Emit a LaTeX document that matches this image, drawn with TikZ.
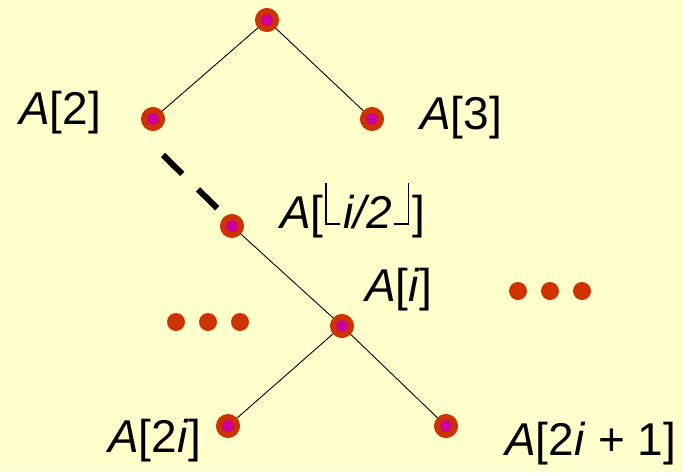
\documentclass[tikz,border=0pt]{standalone}
\usepackage{fontspec}
\setmainfont{Liberation Sans}
\definecolor{bg}{HTML}{FFFFCC}
\definecolor{nodered}{HTML}{CC3300}
\definecolor{nodemag}{HTML}{CC0099}
\newcommand\myfloorL{\hbox to 20pt{\hskip1.5pt\rlap{\rule[3pt]{1.6pt}{42pt}}\rule[3pt]{15pt}{1.6pt}\hss}}
\newcommand\myfloorR{\hbox to 20pt{\hskip1.5pt\rule[3pt]{14pt}{1.6pt}\rule[3pt]{1.6pt}{42pt}\hss}}
\begin{document}
\begin{tikzpicture}[x=1pt,y=-1pt,
  heapnode/.style={circle,draw=nodered,line width=6pt,fill=nodemag,minimum size=18pt,inner sep=0pt},
  edge/.style={draw=black,line width=0.9pt},
  dashedge/.style={draw=black,line width=6pt,dash pattern=on 27pt off 22pt},
  dotnode/.style={circle,fill=nodered,minimum size=18pt,inner sep=0pt},
  lbl/.style={anchor=base west,inner sep=0pt,font=\fontsize{46}{50}\selectfont}]
\fill[bg] (0,0) rectangle (683,472);
\useasboundingbox (0,0) rectangle (683,472);
% edges first (drawn under nodes)
\coordinate (root) at (267,20);
\coordinate (c2) at (153,119);
\coordinate (c3) at (372,119);
\coordinate (chalf) at (232,226);
\coordinate (ci) at (342,326);
\coordinate (c2i) at (228,426);
\coordinate (c2ip) at (446,426);
\draw[edge] (root) -- (c2);
\draw[edge] (root) -- (c3);
\draw[edge] (chalf) -- (ci);
\draw[edge] (ci) -- (c2i);
\draw[edge] (ci) -- (c2ip);
\coordinate (ds) at (163,155);
\coordinate (de) at (218,209);
\draw[dashedge] (ds) -- (de);
% nodes
\node[heapnode] (n1) at (root) {};
\node[heapnode] (n2) at (c2) {};
\node[heapnode] (n3) at (c3) {};
\node[heapnode] (nh) at (chalf) {};
\node[heapnode] (ni) at (ci) {};
\node[heapnode] (n2i) at (c2i) {};
\node[heapnode] (n2ip) at (c2ip) {};
% dots
\node[dotnode] (dl1) at (176,322) {};
\node[dotnode] (dl2) at (208,322) {};
\node[dotnode] (dl3) at (240,322) {};
\node[dotnode] (dr1) at (518,291) {};
\node[dotnode] (dr2) at (550,291) {};
\node[dotnode] (dr3) at (582,291) {};
% labels
\node[lbl] (t2) at (19,124) {\textit{A}[2]};
\node[lbl] (t3) at (420,129) {\textit{A}[3]};
\node[lbl] (th) at (280,228) {\textit{A}[\myfloorL\textit{i/2}\myfloorR]};
\node[lbl] (ti) at (365,301) {\textit{A}[\textit{i}]};
\node[lbl] (t2i) at (108,452) {\textit{A}[2\textit{i}]};
\node[lbl] (t2ip) at (505,455) {\textit{A}[2\textit{i} + 1]};
\end{tikzpicture}
\end{document}
